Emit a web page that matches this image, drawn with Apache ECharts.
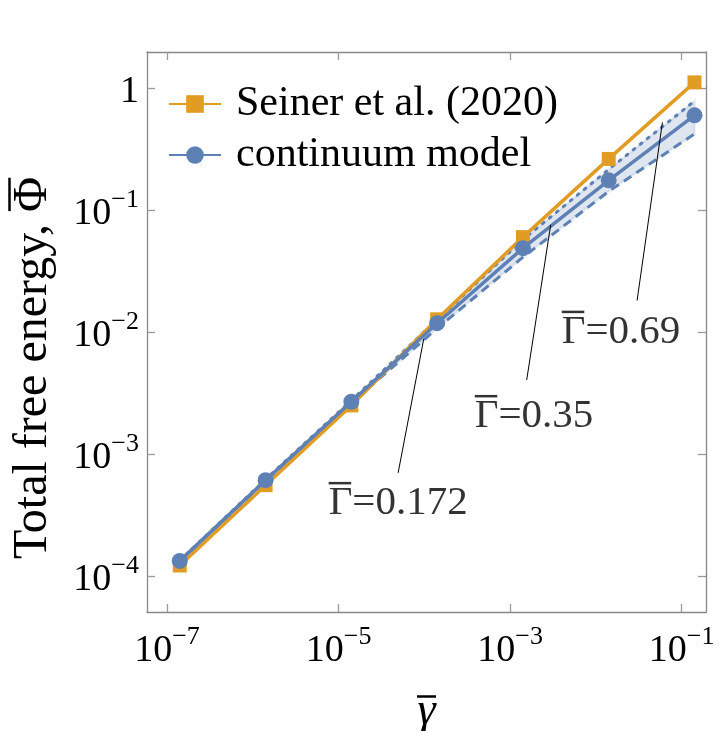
<!DOCTYPE html>
<html>
<head>
<meta charset="utf-8">
<script src="https://cdn.jsdelivr.net/npm/echarts@6/dist/echarts.min.js"></script>
<style>
  html, body { margin: 0; padding: 0; background: #fff; }
  #chart { width: 722px; height: 731px; }
</style>
</head>
<body>
<div id="chart"></div>
<script>
// gamma-bar values (x)
const gammaValues = [1.41e-7, 1.41e-6, 1.41e-5, 1.41e-4, 1.41e-3, 1.41e-2, 1.41e-1];
// Seiner et al. (2020)
const seinerValues = [1.22e-4, 5.55e-4, 2.5e-3, 0.0127, 0.0599, 0.262, 1.11];
// continuum model, Gamma = 0.35
const continuumValues = [1.33e-4, 6.1e-4, 2.68e-3, 0.0118, 0.0486, 0.175, 0.596];
// continuum model, Gamma = 0.69 (dotted) and Gamma = 0.172 (dashed)
const upperValues = [1.34e-4, 6.2e-4, 2.75e-3, 0.0126, 0.057, 0.215, 0.78];
const lowerValues = [1.32e-4, 6.0e-4, 2.62e-3, 0.0107, 0.041, 0.142, 0.42];

const xTicks = [1e-7, 1e-5, 1e-3, 1e-1];
const yTicks = [1, 1e-1, 1e-2, 1e-3, 1e-4];

// annotation labels: text, label anchor, line start, line end (data units)
const annotValues = ['0.172', '0.35', '0.69'];
const annotAnchors = [[7.67e-6, 4.03e-4], [3.87e-4, 2.08e-3], [4.0e-3, 0.0102]];
const annotFrom = [[4.95e-5, 7.0e-4], [1.56e-3, 4.04e-3], [0.0302, 0.0181]];
const annotTo = [[9.84e-5, 8.77e-3], [2.97e-3, 0.0755], [0.0596, 0.522]];

const BLUE = '#5E81B5';
const ORANGE = '#E19C24';
const FONT = 'Liberation Serif';

const pairs = ys => gammaValues.map((x, i) => [x, ys[i]]);

// text width, used to size the overbars
const ctx = document.createElement('canvas').getContext('2d');
function textWidth (s, size, style) {
  ctx.font = (style || '') + ' ' + size + 'px "' + FONT + '"';
  return ctx.measureText(s).width;
}
function barStyle (w) {
  return { width: w, height: 2.5, fontSize: 2, lineHeight: 3, backgroundColor: '#000' };
}

function powLabel (v) {
  const e = Math.round(Math.log10(v));
  if (e === 0) return '{b|1}';
  return '{b|10}{s|\u2212' + Math.abs(e) + '}';
}
const labelRich = {
  b: { fontFamily: FONT, fontSize: 38, color: '#000', lineHeight: 46, verticalAlign: 'bottom' },
  s: { fontFamily: FONT, fontSize: 26, color: '#000', lineHeight: 30, verticalAlign: 'top' }
};

const frame = { show: true, lineStyle: { color: '#888', width: 1.3 } };
const tick = { show: true, inside: true, length: 8, lineStyle: { color: '#999', width: 1.3 } };

const xMin = 5.85e-8, xMax = 0.192, yMin = 5.07e-5, yMax = 1.97;

const yPrefix = 'Total free energy, ';
const yName = '{sp| }{bar| }\n{t|' + yPrefix + '\u03A6}';
const yNameRich = {
  sp: { width: textWidth(yPrefix, 48), fontSize: 2, lineHeight: 3 },
  bar: barStyle(textWidth('\u03A6', 48) * 0.95),
  t: { fontFamily: FONT, fontSize: 48, color: '#000', lineHeight: 44 }
};
const xNameRich = {
  bar: barStyle(textWidth('\u03B3', 46, 'italic') * 1.05),
  t: { fontFamily: FONT, fontSize: 46, fontStyle: 'italic', color: '#000', lineHeight: 28 }
};
const annotRich = {
  bar: barStyle(textWidth('\u0393', 41) * 0.95),
  t: { fontFamily: FONT, fontSize: 41, color: '#000', lineHeight: 38 }
};

const myChart = echarts.init(document.getElementById('chart'));
const option = {
  animation: false,
  backgroundColor: '#fff',
  grid: { left: 147, top: 52, width: 559, height: 560, outerBoundsMode: 'none', containLabel: false },
  legend: {
    data: ['Seiner et al. (2020)', 'continuum model'],
    orient: 'vertical',
    left: 163,
    top: 76,
    itemWidth: 52,
    itemHeight: 22,
    itemGap: 5,
    textStyle: { fontFamily: FONT, fontSize: 42, color: '#000', lineHeight: 46, padding: [0, 0, 0, 10] }
  },
  xAxis: [
    {
      type: 'log', logBase: 10, min: xMin, max: xMax,
      name: '{bar| }\n{t|\u03B3}', nameLocation: 'middle', nameGap: 83,
      nameTextStyle: { rich: xNameRich },
      axisLine: frame,
      axisTick: Object.assign({ customValues: xTicks }, tick),
      axisLabel: { customValues: xTicks, margin: 12, formatter: powLabel, rich: labelRich },
      splitLine: { show: false }, minorTick: { show: false }
    },
    {
      type: 'log', logBase: 10, min: xMin, max: xMax, position: 'top',
      axisLine: frame,
      axisTick: Object.assign({ customValues: xTicks }, tick),
      axisLabel: { show: false },
      splitLine: { show: false }
    }
  ],
  yAxis: [
    {
      type: 'log', logBase: 10, min: yMin, max: yMax,
      name: yName, nameLocation: 'middle', nameGap: 92, nameRotate: 90,
      nameTextStyle: { rich: yNameRich, padding: [0, 72, 0, 0] },
      axisLine: frame,
      axisTick: Object.assign({ customValues: yTicks }, tick),
      axisLabel: { customValues: yTicks, margin: 8, formatter: powLabel, rich: labelRich },
      splitLine: { show: false }
    },
    {
      type: 'log', logBase: 10, min: yMin, max: yMax, position: 'right',
      axisLine: frame,
      axisTick: Object.assign({ customValues: yTicks }, tick),
      axisLabel: { show: false },
      splitLine: { show: false }
    }
  ],
  series: [
    {
      name: 'band', type: 'custom', silent: true, z: 1,
      data: [[gammaValues[0], lowerValues[0]]],
      renderItem: (params, api) => {
        const top = gammaValues.map((x, i) => api.coord([x, upperValues[i]]));
        const bottom = gammaValues.map((x, i) => api.coord([x, lowerValues[i]])).reverse();
        return {
          type: 'polygon',
          shape: { points: top.concat(bottom) },
          style: { fill: 'rgba(94,129,181,0.2)', stroke: 'rgba(94,129,181,0.12)', lineWidth: 3 }
        };
      }
    },
    {
      name: 'Gamma 0.69', type: 'line', data: pairs(upperValues), symbol: 'none', z: 2,
      lineStyle: { color: BLUE, width: 3, type: [2, 7], cap: 'round' }
    },
    {
      name: 'Gamma 0.172', type: 'line', data: pairs(lowerValues), symbol: 'none', z: 2,
      lineStyle: { color: BLUE, width: 3, type: [9, 6] }
    },
    {
      name: 'Seiner et al. (2020)', type: 'line', data: pairs(seinerValues), z: 3,
      symbol: 'rect', symbolSize: 14,
      lineStyle: { color: ORANGE, width: 3.5 }, itemStyle: { color: ORANGE }
    },
    {
      name: 'continuum model', type: 'line', data: pairs(continuumValues), z: 4,
      symbol: 'circle', symbolSize: 16,
      lineStyle: { color: BLUE, width: 3.5 }, itemStyle: { color: BLUE }
    },
    {
      name: 'annotations', type: 'scatter', symbolSize: 0, silent: true, z: 5,
      emphasis: { disabled: true },
      data: annotAnchors.map((p, i) => ({ value: p, name: annotValues[i] })),
      label: {
        show: true, position: 'right', distance: 0,
        formatter: p => '{bar| }\n{t|\u0393=' + p.name + '}',
        rich: annotRich
      },
      markLine: {
        silent: true, symbol: ['none', 'none'],
        lineStyle: { color: '#000', width: 1, type: 'solid' },
        label: { show: false },
        emphasis: { disabled: true },
        data: annotFrom.map((p, i) => [{ coord: p }, { coord: annotTo[i] }])
      }
    }
  ]
};
myChart.setOption(option);
</script>
</body>
</html>
